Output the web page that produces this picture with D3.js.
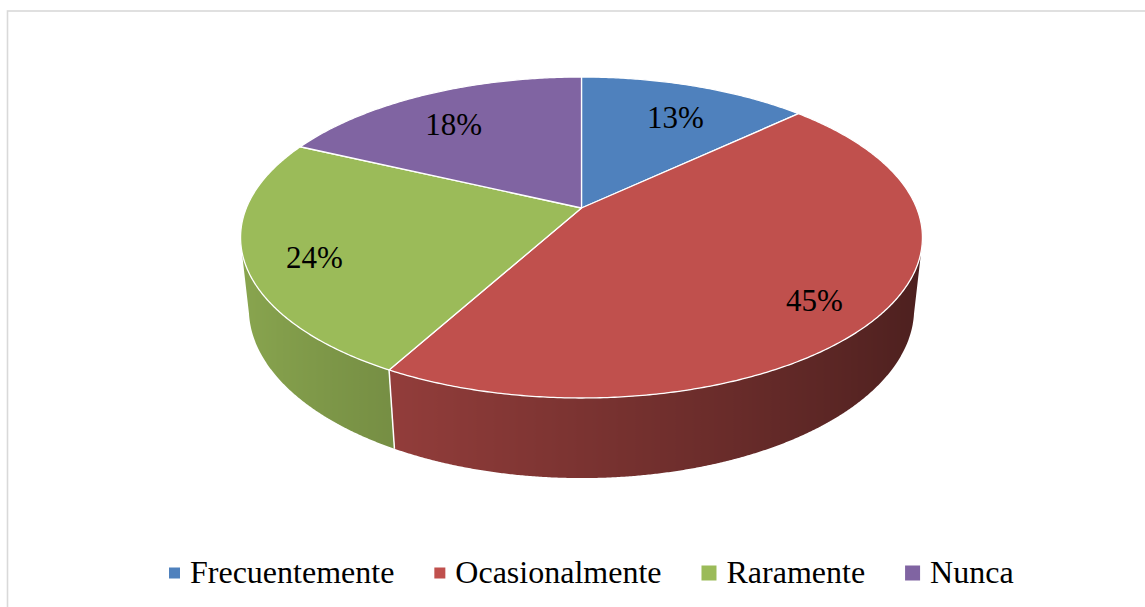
<!DOCTYPE html>
<html>
<head>
<meta charset="utf-8">
<script src="https://cdn.jsdelivr.net/npm/d3@7"></script>
<style>
  html, body { margin: 0; padding: 0; background: #fff; }
  svg { display: block; }
</style>
</head>
<body>
<div id="chart"></div>
<script>
// data
const CATEGORIES = ["Frecuentemente", "Ocasionalmente", "Raramente", "Nunca"];
const VALUES = [13, 45, 24, 18];
const LABELS = ["13%", "45%", "24%", "18%"];
const COLORS = ["#4F81BD", "#C0504D", "#9BBB59", "#8064A2"];

// legend marker sizes (the last two are drawn larger in the original)
const MARKER_SIZES = [11, 11, 15, 15];

const WIDTH = 1145, HEIGHT = 607;
const FONT = "'Liberation Serif', 'Times New Roman', serif";

// 3d pie projection settings
const CX = 581.5, CY = 208;
const ELEV = 28 * Math.PI / 180;
const DIST = 4.807;
const KX = 1611, KY = 1588;
const THICK = 0.2464;

const svg = d3.select("#chart").append("svg")
    .attr("width", WIDTH)
    .attr("height", HEIGHT);

const defs = svg.append("defs");

// chart area border
svg.append("rect")
    .attr("x", 7.5).attr("y", 11)
    .attr("width", 1300).attr("height", 800)
    .attr("fill", "none")
    .attr("stroke", "#d9d9d9")
    .attr("stroke-width", 1.6);

// angle = clockwise from 12 o'clock, r = radius fraction, h = 0 top / 1 bottom
function project(angle, r, h) {
    const x = r * Math.sin(angle);
    const z = -r * Math.cos(angle);
    const y = -h * THICK;
    const yc = y * Math.cos(ELEV) - z * Math.sin(ELEV);
    const zc = y * Math.sin(ELEV) + z * Math.cos(ELEV);
    const w = DIST - zc;
    return [CX + KX * x / w, CY - KY * yc / w];
}

// side shade: lighter on the left, darker on the right
function shade(color, angle) {
    const base = d3.rgb(color);
    const k = 0.64 - 0.256 * Math.sin(angle);
    return d3.rgb(base.r * k, base.g * k, base.b * k).formatHex();
}

const pie = d3.pie().sort(null).value(d => d);
const arcs = pie(VALUES);

const STEP = Math.PI / 360;
const visLimit = -1 / (DIST * Math.cos(ELEV)) + 0.03;

// side walls: only the front-facing part of each slice
const sides = svg.append("g").attr("class", "sides");
arcs.forEach((a, i) => {
    const angles = [];
    for (let t = a.startAngle; t <= a.endAngle + 1e-9; t += STEP / 2) {
        if (Math.cos(t) <= visLimit) angles.push(Math.min(t, a.endAngle));
    }
    if (angles.length < 2) return;
    const topPts = angles.map(t => project(t, 1, 0));
    const botPts = angles.map(t => project(t, 1, 1)).reverse();
    const xs = topPts.map(p => p[0]);
    const x0 = d3.min(xs), x1 = d3.max(xs);

    const grad = defs.append("linearGradient")
        .attr("id", "side" + i)
        .attr("gradientUnits", "userSpaceOnUse")
        .attr("x1", x0).attr("y1", 0)
        .attr("x2", x1).attr("y2", 0);
    const stops = angles.map((t, j) => ({ off: (xs[j] - x0) / (x1 - x0 || 1), c: shade(COLORS[i], t) }))
        .sort((p, q) => p.off - q.off);
    stops.forEach(s => grad.append("stop").attr("offset", s.off).attr("stop-color", s.c));

    sides.append("path")
        .attr("d", "M" + topPts.concat(botPts).map(p => p.join(",")).join("L") + "Z")
        .attr("fill", `url(#side${i})`);
});

// white seams where slices meet on the visible wall
arcs.forEach(a => {
    const t = a.endAngle;
    if (Math.cos(t) < -1 / (DIST * Math.cos(ELEV))) {
        const p0 = project(t, 1, 0), p1 = project(t, 1, 1);
        sides.append("line")
            .attr("x1", p0[0]).attr("y1", p0[1])
            .attr("x2", p1[0]).attr("y2", p1[1])
            .attr("stroke", "#fff")
            .attr("stroke-width", 1.5);
    }
});

// top faces
const topFaces = svg.append("g").attr("class", "tops");
topFaces.selectAll("path")
    .data(arcs)
    .enter()
    .append("path")
    .attr("d", a => {
        const pts = [project(0, 0, 0)];
        const n = Math.ceil((a.endAngle - a.startAngle) / STEP);
        for (let j = 0; j <= n; j++) {
            pts.push(project(a.startAngle + (a.endAngle - a.startAngle) * j / n, 1, 0));
        }
        return "M" + pts.map(p => p.join(",")).join("L") + "Z";
    })
    .attr("fill", (a, i) => COLORS[i])
    .attr("stroke", "#fff")
    .attr("stroke-width", 1.3)
    .attr("stroke-linejoin", "round");

// data labels
svg.append("g").selectAll("text")
    .data(arcs)
    .enter()
    .append("text")
    .attr("x", a => project((a.startAngle + a.endAngle) / 2, 0.8, 0)[0])
    .attr("y", a => project((a.startAngle + a.endAngle) / 2, 0.8, 0)[1] + 9)
    .attr("dy", "0.35em")
    .attr("text-anchor", "middle")
    .attr("font-family", FONT)
    .attr("font-size", "31px")
    .attr("fill", "#000")
    .text((a, i) => LABELS[i]);

// legend
const legend = svg.append("g").attr("class", "legend");
let lx = 169;
const LY = 573;
CATEGORIES.forEach((name, i) => {
    const s = MARKER_SIZES[i];
    legend.append("rect")
        .attr("x", lx).attr("y", LY - s / 2)
        .attr("width", s).attr("height", s)
        .attr("fill", COLORS[i]);
    const txt = legend.append("text")
        .attr("x", lx + s + 10)
        .attr("y", 583)
        .attr("font-family", FONT)
        .attr("font-size", "32px")
        .attr("fill", "#000")
        .text(name);
    lx = lx + s + 10 + txt.node().getComputedTextLength() + 40;
});
</script>
</body>
</html>
